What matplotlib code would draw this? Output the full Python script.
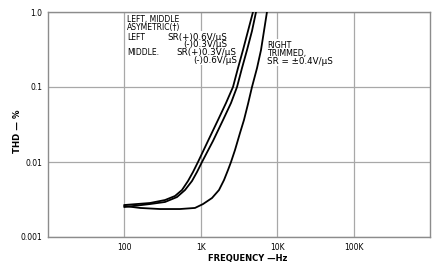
import matplotlib
matplotlib.use("Agg")
import matplotlib.pyplot as plt
from matplotlib.patches import Rectangle

# THD vs frequency, three op-amp slew-rate cases
freq_left = [100, 216, 340, 459, 567, 680, 791, 919, 1242, 1679, 2138, 2638, 3069, 3565, 4146, 4822]
thd_left = [0.00267, 0.00284, 0.00311, 0.00352, 0.00423, 0.00558, 0.00736, 0.01, 0.0191, 0.0363,
            0.0612, 0.1, 0.179, 0.311, 0.558, 1.0]

freq_middle = [100, 216, 340, 488, 621, 767, 892, 1037, 1445, 1954, 2485, 2978, 3461, 4025, 4677, 5282]
thd_middle = [0.00251, 0.00275, 0.00293, 0.00341, 0.00423, 0.00558, 0.00736, 0.01, 0.0191, 0.0363,
              0.0612, 0.1, 0.179, 0.311, 0.558, 1.0]

freq_right = [100, 160, 292, 534, 839, 1069, 1402, 1730, 2013, 2270, 2485, 2803, 3260, 3673, 4146,
              4677, 5444, 6137, 6714, 7345]
thd_right = [0.00259, 0.00244, 0.00236, 0.00236, 0.00244, 0.00275, 0.00331, 0.00423, 0.00575, 0.00782,
             0.01, 0.01445, 0.0244, 0.0363, 0.0593, 0.1, 0.179, 0.311, 0.558, 1.0]

x_ticks = [100, 1000, 10000, 100000]
x_labels = ["100", "1K", "10K", "100K"]
y_ticks = [0.001, 0.01, 0.1, 1.0]
y_labels = ["0.001", "0.01", "0.1", "1.0"]

W, H = 436, 262
fig = plt.figure(figsize=(W / 100, H / 100), dpi=100)
ax = fig.add_axes([48 / W, 1 - 237 / H, 382 / W, 225 / H])

for f, t in [(freq_left, thd_left), (freq_middle, thd_middle), (freq_right, thd_right)]:
    ax.plot(f, t, color="black", lw=1.3, zorder=3)

ax.set_xscale("log")
ax.set_yscale("log")
ax.set_xlim(10, 1e6)
ax.set_ylim(0.001, 1.0)
ax.set_xticks(x_ticks)
ax.set_xticklabels(x_labels)
ax.set_yticks(y_ticks)
ax.set_yticklabels(y_labels)
ax.minorticks_off()
ax.tick_params(length=0, labelsize=5.5, pad=4)
ax.grid(True, color="#a8a8a8", lw=0.9)
for s in ax.spines.values():
    s.set_color("#8c8c8c")
    s.set_linewidth(1.0)

ax.set_ylabel("THD — %", fontsize=6.2, fontweight="bold")
ax.yaxis.set_label_coords(-0.068, 0.47)
fig.text(248 / W, 1 - 258 / H, "FREQUENCY —Hz", fontsize=6, fontweight="bold",
         ha="center", va="center")

# white patches behind the note blocks hide the grid lines there
for x0, y0, x1, y1 in [(150, 31, 238, 65), (264, 39, 338, 66)]:
    ax.add_patch(Rectangle((x0 / W, 1 - y1 / H), (x1 - x0) / W, (y1 - y0) / H,
                           transform=fig.transFigure, facecolor="white", edgecolor="none",
                           zorder=2))

# (x px, y px, text, align, size)
notes = [
    (127, 19.5, "LEFT, MIDDLE", "left", 5.5),
    (127, 27.5, "ASYMETRIC(†)", "left", 5.5),
    (127, 37, "LEFT", "left", 5.5),
    (227, 37, "SR(+)0.6V/µS", "right", 6.3),
    (227, 44.5, "(-)0.3V/µS", "right", 6.3),
    (127, 52.5, "MIDDLE.", "left", 5.5),
    (236, 52.5, "SR(+)0.3V/µS", "right", 6.3),
    (237, 60.5, "(-)0.6V/µS", "right", 6.3),
    (267, 45, "RIGHT", "left", 5.7),
    (267, 53, "TRIMMED,", "left", 5.7),
    (267, 61.5, "SR = ±0.4V/µS", "left", 6.3),
]
for x, y, s, ha, size in notes:
    fig.text(x / W, 1 - y / H, s, fontsize=size, ha=ha, va="center", zorder=5)

fig.savefig("out.png", dpi=100, facecolor="white")
